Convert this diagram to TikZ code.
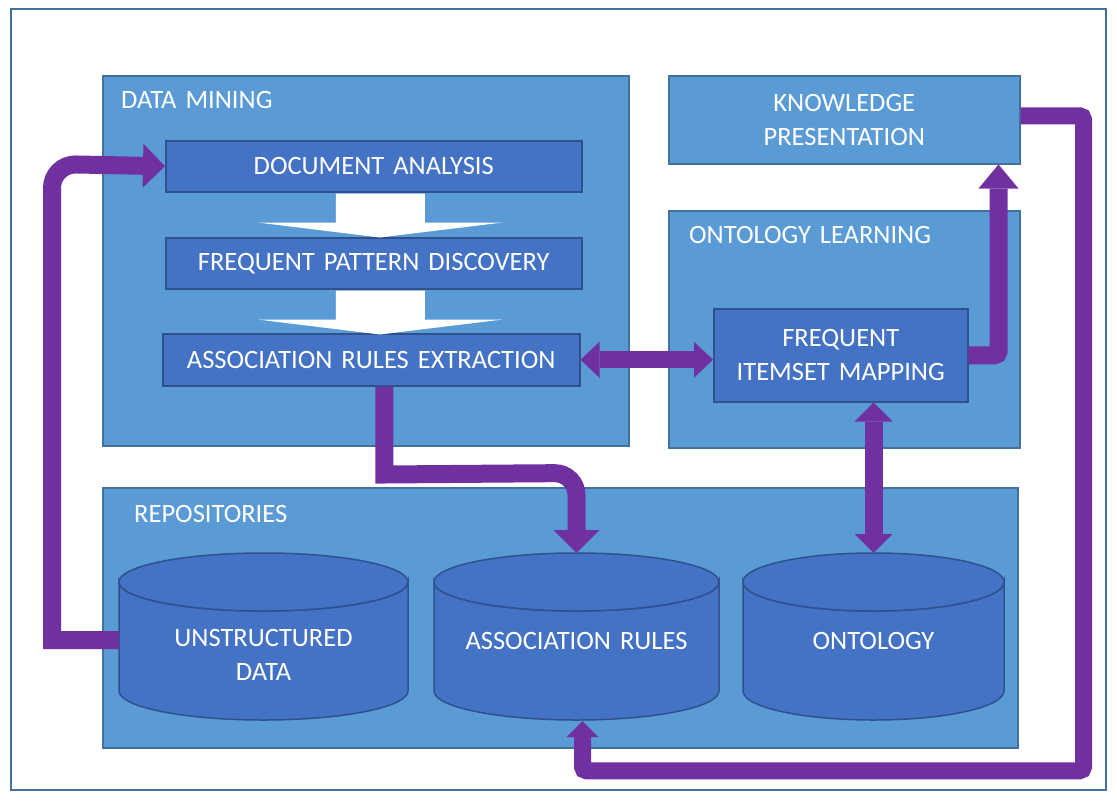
\documentclass[tikz,border=0pt]{standalone}
\usepackage{fontspec}
\setmainfont{Carlito}[WordSpace=1.5]
\usetikzlibrary{calc,arrows.meta}
\definecolor{boxblue}{HTML}{5B9BD5}
\definecolor{boxedge}{HTML}{41719C}
\definecolor{stepblue}{HTML}{4472C4}
\definecolor{stepedge}{HTML}{2F528F}
\definecolor{flowpurple}{HTML}{7030A0}
\tikzset{
	groupbox/.style={draw=boxedge, fill=boxblue, line width=1.5pt, anchor=north west, inner sep=0pt},
	stepbox/.style={draw=stepedge, fill=stepblue, line width=1.5pt, anchor=north west, inner sep=0pt, text=white, align=center},
	caption/.style={text=white, anchor=base west, inner sep=0pt},
	cyltext/.style={text=white, align=center, inner sep=0pt},
	flow/.style={draw=flowpurple, line width=18pt},
}
\def\repocyl(#1:#2)#3{
	\filldraw[fill=stepblue, draw=stepedge, line width=1.5pt] (#1,582) -- (#1,691) arc (180:0:{(#2-#1)/2} and 29) -- (#2,582) arc (0:180:{(#2-#1)/2} and 29) -- cycle;
	\filldraw[fill=stepblue, draw=stepedge, line width=1.5pt] ({(#1+#2)/2},582) ellipse ({(#2-#1)/2} and 29);
	\coordinate (#3-n) at ({(#1+#2)/2},553);
	\coordinate (#3-s) at ({(#1+#2)/2},721);
	\coordinate (#3-w) at (#1,640);
}
\def\whitearrow(#1){\fill[white] ($(#1)+(-38,1)$) -- ($(#1)+(51,1)$) -- ($(#1)+(51,30)$) -- ($(#1)+(129,30)$) -- ($(#1)+(6,45)$) -- ($(#1)+(-116,30)$) -- ($(#1)+(-38,30)$) -- cycle;}

\begin{document}
\begin{tikzpicture}[x=1pt, y=-1pt, every node/.style={font=\fontsize{26.5}{34}\selectfont}]
			%%%%% START %%%%%
			
			\useasboundingbox (0,0) rectangle (1117,801);
			\draw[boxedge, line width=2pt] (11,9) rectangle (1106,790);
			
			% data mining
			\node[groupbox, minimum width=526, minimum height=370] (mining) at (102,75) {};
			\node[caption] (miningtitle) at (121,108) {DATA MINING};
			\node[stepbox, minimum width=416, minimum height=51] (docana) at (165,140) {DOCUMENT ANALYSIS};
			\node[stepbox, minimum width=416, minimum height=51] (freqpat) at (165,237) {FREQUENT PATTERN DISCOVERY};
			\node[stepbox, minimum width=417, minimum height=52] (assoc) at (162,333) {ASSOCIATION RULES EXTRACTION};
			\whitearrow(docana.south)
			\whitearrow(freqpat.south)
			
			% knowledge and ontology learning
			\node[groupbox, minimum width=351, minimum height=88, text=white, align=center] (know) at (668,75) {KNOWLEDGE\\PRESENTATION};
			\node[groupbox, minimum width=351, minimum height=237] (learning) at (668,210) {};
			\node[caption] (learningtitle) at (689,243) {ONTOLOGY LEARNING};
			\node[stepbox, minimum width=254, minimum height=93] (fim) at (713,308) {FREQUENT\\ITEMSET MAPPING};
			
			% repositories
			\node[groupbox, minimum width=915, minimum height=260] (repos) at (102,487) {};
			\node[caption] (repotitle) at (134,522) {REPOSITORIES};
			\repocyl(119:408){unstr}
			\repocyl(434:719){asrules}
			\repocyl(743:1004){onto}
			\node[cyltext] (unstrtext) at (263.5,655) {UNSTRUCTURED\\DATA};
			\node[cyltext] (asrulestext) at (576.5,641) {ASSOCIATION RULES};
			\node[cyltext] (ontotext) at (873.5,641) {ONTOLOGY};
			
			% connectors
			\draw[flow, -{Triangle[length=22pt,width=44pt,line width=0pt]}] (unstr-w) -- (52,640) [rounded corners=24] -- (52,164) -- (docana.west);
			\draw[flow, -{Triangle[length=23pt,width=46pt,line width=0pt]}] ([xshift=13]assoc.south) -- ++(0,88) [rounded corners=22] -- ($(asrules-n)+(0,-80)$) -- (asrules-n);
			\draw[flow, line width=17pt, {Triangle[length=19pt,width=36pt,line width=0pt]}-{Triangle[length=19pt,width=36pt,line width=0pt]}] (assoc.east) -- (assoc.east -| fim.west);
			\draw[flow, rounded corners=4, -{Triangle[length=24pt,width=40pt,line width=0pt]}] (fim.east) -| ([xshift=-22]know.south east);
			\draw[flow, {Triangle[length=19pt,width=38pt,line width=0pt]}-{Triangle[length=19pt,width=38pt,line width=0pt]}] (onto-n) -- (onto-n |- fim.south);
			\draw[flow, line width=17pt, rounded corners=4, -{Triangle[length=16pt,width=32pt,line width=0pt]}] ([yshift=4]know.east) -- ++(63,0) -- ++(0,655) -| ([xshift=6]asrules-s);
			
			%%%%% END %%%%%
\end{tikzpicture}
\end{document}
